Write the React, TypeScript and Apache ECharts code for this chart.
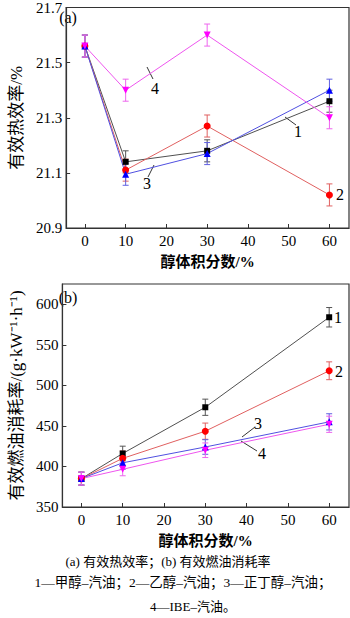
import React, { useEffect, useRef } from "react";
import * as echarts from "echarts";

const xVals = [0, 10, 30, 60];
const xTicks = [0, 10, 20, 30, 40, 50, 60];

// (a) 有效热效率/%
const effMethanol = [21.56, 21.14, 21.18, 21.36];
const effEthanol = [21.56, 21.11, 21.27, 21.02];
const effButanol = [21.56, 21.095, 21.17, 21.40];
const effIBE = [21.56, 21.40, 21.60, 21.30];
const effErr1 = [0.04, 0.04, 0.04, 0.04];
const effErr2 = [0.04, 0.04, 0.04, 0.04];
const effErr3 = [0.04, 0.04, 0.04, 0.04];
const effErr4 = [0.04, 0.04, 0.04, 0.04];
const effTicks = [20.9, 21.1, 21.3, 21.5, 21.7];

// (b) 有效燃油消耗率
const bsfcMethanol = [385, 416, 473, 584];
const bsfcEthanol = [385, 410, 443.5, 518];
const bsfcButanol = [385, 404.5, 424, 455];
const bsfcIBE = [385, 396.5, 420, 452];
const bsfcErr1 = [8, 9, 10, 12];
const bsfcErr2 = [8, 9, 10, 11];
const bsfcErr3 = [8, 8, 9, 10];
const bsfcErr4 = [8, 8, 9, 10];
const bsfcTicks = [350, 400, 450, 500, 550, 600];

const FONT = "'Liberation Serif', 'Noto Sans CJK SC', serif";

const styles = [
  { name: "1", line: "#505050", mark: "#000000", err: "#555555", symbol: "rect", size: 6, rotate: 0 },
  { name: "2", line: "#e06060", mark: "#ff0000", err: "#e06060", symbol: "circle", size: 7, rotate: 0 },
  { name: "3", line: "#5050e0", mark: "#0000ff", err: "#6060e0", symbol: "triangle", size: 7, rotate: 0 },
  { name: "4", line: "#ee55ee", mark: "#ff00ff", err: "#ee66ee", symbol: "triangle", size: 7, rotate: 180 },
];

function buildSeries(idx: number, vals: number[][], errs: number[][]) {
  const out: any[] = [];
  vals.forEach((v, i) => {
    const s = styles[i];
    out.push({
      type: "custom",
      xAxisIndex: idx,
      yAxisIndex: idx,
      clip: false,
      z: 2,
      data: xVals.map((x, k) => [x, v[k], errs[i][k]]),
      encode: { x: 0, y: 1 },
      renderItem: (params: any, api: any) => {
        const x = api.value(0);
        const y = api.value(1);
        const e = api.value(2);
        const p = api.coord([x, y + e]);
        const q = api.coord([x, y - e]);
        const st = { stroke: s.err, lineWidth: 1 };
        return {
          type: "group",
          children: [
            { type: "line", shape: { x1: p[0], y1: p[1], x2: q[0], y2: q[1] }, style: st },
            { type: "line", shape: { x1: p[0] - 3, y1: p[1], x2: p[0] + 3, y2: p[1] }, style: st },
            { type: "line", shape: { x1: q[0] - 3, y1: q[1], x2: q[0] + 3, y2: q[1] }, style: st },
          ],
        };
      },
    });
    out.push({
      type: "line",
      name: s.name,
      xAxisIndex: idx,
      yAxisIndex: idx,
      data: xVals.map((x, k) => [x, v[k]]),
      symbol: s.symbol,
      symbolSize: s.size,
      symbolRotate: s.rotate,
      showAllSymbol: true,
      lineStyle: { color: s.line, width: 1 },
      itemStyle: { color: s.mark, borderWidth: 0 },
      z: 3,
    });
  });
  return out;
}

function xAxis(gridIndex: number) {
  return {
    type: "value",
    gridIndex,
    min: -4.6,
    max: 64.8,
    name: "醇体积分数/%",
    nameLocation: "middle",
    nameGap: 26,
    nameTextStyle: { fontFamily: FONT, fontSize: 15, color: "#000", fontWeight: "bold" },
    axisLine: { show: true, onZero: false, lineStyle: { color: "#333", width: 1.2 } },
    axisTick: { show: true, inside: true, length: 4, customValues: xTicks, lineStyle: { color: "#333" } },
    axisLabel: { customValues: xTicks, fontFamily: FONT, fontSize: 15, color: "#000", margin: 5 },
    splitLine: { show: false },
  };
}

function yAxis(gridIndex: number, min: number, max: number, ticks: number[], name: string, fmt: (v: number) => string) {
  return {
    type: "value",
    gridIndex,
    min,
    max,
    name,
    nameLocation: "middle",
    nameGap: 37,
    nameRotate: 90,
    nameTextStyle: { fontFamily: FONT, fontSize: 17, color: "#000" },
    axisLine: { show: true, onZero: false, lineStyle: { color: "#333", width: 1.2 } },
    axisTick: { show: true, inside: true, length: 4, customValues: ticks, lineStyle: { color: "#333" } },
    axisLabel: { customValues: ticks, fontFamily: FONT, fontSize: 15, color: "#000", margin: 4, formatter: fmt },
    splitLine: { show: false },
  };
}

function txt(x: number, y: number, text: string, size = 16, align = "center") {
  return {
    type: "text",
    x,
    y,
    style: { text, fontFamily: FONT, fontSize: size, fill: "#000", align, verticalAlign: "middle" },
  };
}
function ln(x1: number, y1: number, x2: number, y2: number) {
  return { type: "line", shape: { x1, y1, x2, y2 }, style: { stroke: "#000", lineWidth: 0.8 } };
}

export default function App() {
  const ref = useRef<HTMLDivElement>(null);
  useEffect(() => {
    if (!ref.current) return;
    const chart = echarts.init(ref.current, null, { renderer: "svg" });
    chart.setOption({
      animation: false,
      backgroundColor: "#fff",
      grid: [
        { left: 50, top: 5, width: 299, height: 223, show: true, borderColor: "#333", borderWidth: 1.2 },
        { left: 50, top: 284, width: 299, height: 223, show: true, borderColor: "#333", borderWidth: 1.2 },
      ],
      xAxis: [xAxis(0), xAxis(1)],
      yAxis: [
        yAxis(0, 20.9, 21.7, effTicks, "有效热效率/%", (v: number) => v.toFixed(1)),
        yAxis(1, 350, 625, bsfcTicks, "有效燃油消耗率/(g·kW⁻¹·h⁻¹)", (v: number) => String(Math.round(v))),
      ],
      series: [
        ...buildSeries(0, [effMethanol, effEthanol, effButanol, effIBE], [effErr1, effErr2, effErr3, effErr4]),
        ...buildSeries(1, [bsfcMethanol, bsfcEthanol, bsfcButanol, bsfcIBE], [bsfcErr1, bsfcErr2, bsfcErr3, bsfcErr4]),
      ],
      graphic: [
        txt(68, 17, "(a)", 16),
        txt(68, 297, "(b)", 16),
        txt(155, 88, "4"),
        ln(147, 67, 153, 79),
        txt(147, 183, "3"),
        ln(154, 165, 148, 177),
        txt(298, 131, "1"),
        ln(285, 117, 296, 125),
        txt(340, 194, "2"),
        txt(338, 317, "1"),
        txt(339, 371, "2"),
        txt(258, 423, "3"),
        ln(242, 437, 255, 427),
        txt(262, 453, "4"),
        ln(241, 441, 257, 451),
        txt(168, 561, "(a) 有效热效率；(b) 有效燃油消耗率", 13),
        txt(183, 582, "1—甲醇–汽油；2—乙醇–汽油；3—正丁醇–汽油；", 13.5),
        txt(193, 606, "4—IBE–汽油。", 13),
      ],
    });
    return () => chart.dispose();
  }, []);
  return <div ref={ref} style={{ position: "fixed", left: 0, top: 0, width: 350, height: 618 }} />;
}
